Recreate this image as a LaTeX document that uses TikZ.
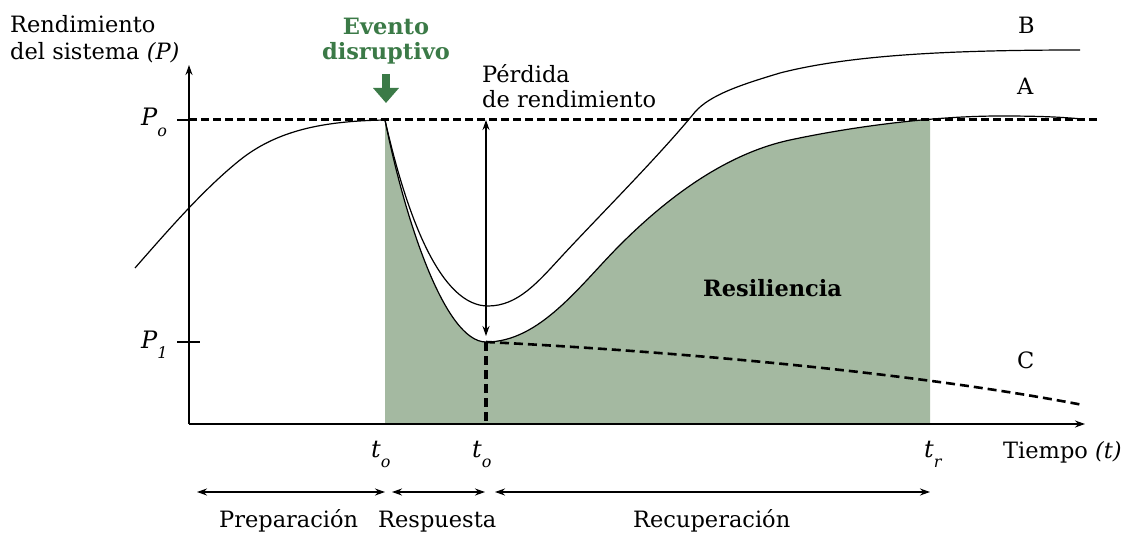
\documentclass[tikz,border=0pt]{standalone}
\usepackage{fontspec}
\setmainfont{DejaVu Serif}
\usetikzlibrary{arrows.meta}
\definecolor{evgreen}{HTML}{3B7A47}
\definecolor{shadegreen}{HTML}{A4B9A1}
\newcommand{\subsc}[1]{\raisebox{-0.42em}{\fontsize{16}{16}\selectfont\itshape #1}}
\begin{document}
\begin{tikzpicture}[x=1pt,y=-1pt,
  txt/.style={font=\fontsize{22.5}{27}\selectfont, inner sep=0pt},
  mathtxt/.style={font=\fontsize{24}{27}\selectfont\itshape, inner sep=0pt},
  axis/.style={line width=1.8pt},
  curve/.style={line width=1.2pt},
  thickdash/.style={line width=3pt, dash pattern=on 8pt off 4pt},
  cdash/.style={line width=2.6pt, dash pattern=on 9pt off 5pt},
  tip/.style={-{Stealth[length=10pt,width=7pt]}},
  dtip/.style={{Stealth[length=10pt,width=7pt]}-{Stealth[length=10pt,width=7pt]}}
]
\useasboundingbox (0,0) rectangle (1134,534);

% shaded resilience area (below curve A)
\begin{scope}
  \clip (385,0) rectangle (930,424);
  \fill[shadegreen] (385,424) -- (385,120)
    .. controls (405,220) and (445,342) .. (486,342)
    .. controls (540,342) and (580,285) .. (620,245)
    .. controls (660,205) and (720,155) .. (790,140)
    .. controls (860,125) and (940,116) .. (1000,116)
    -- (1000,424) -- cycle;
\end{scope}

% coordinates
\coordinate (O) at (189,424);
\coordinate (Ytop) at (189,65);
\coordinate (Xend) at (1085,424);
\coordinate (P0l) at (177,120);
\coordinate (P0a) at (189,120);
\coordinate (P0r) at (1100,120);
\coordinate (P1l) at (177,342);
\coordinate (P1r) at (200,342);
\coordinate (Ev) at (385,120);
\coordinate (Min) at (486,342);
\coordinate (MinB) at (486,424);
\coordinate (Ltop) at (486,120);
\coordinate (Lbot) at (486,336);
\coordinate (EvTop) at (386,74);
\coordinate (EvTip) at (386,103);

% axes
\draw[axis, tip] (O) -- (Ytop);
\draw[axis, tip] (O) -- (Xend);
\draw[axis] (P0l) -- (P0a);
\draw[axis] (P1l) -- (P1r);

% reference level P_o
\draw[thickdash] (P0a) -- (P0r);

% pre-event curve
\draw[curve] (135,268) .. controls (170,228) and (205,188) .. (240,160)
  .. controls (280,128) and (330,121) .. (Ev);

% curve B
\draw[curve] (Ev) .. controls (408,222) and (442,306) .. (488,306)
  .. controls (518,306) and (538,282) .. (562,256)
  .. controls (600,215) and (660,155) .. (695,112)
  .. controls (710,95) and (740,85) .. (780,73)
  .. controls (850,55) and (950,50) .. (1080,50);

% curve A
\draw[curve] (Ev) .. controls (405,220) and (445,342) .. (Min)
  .. controls (540,342) and (580,285) .. (620,245)
  .. controls (660,205) and (720,155) .. (790,140)
  .. controls (860,125) and (940,116) .. (1000,116)
  .. controls (1040,116) and (1060,117) .. (1082,119);

% curve C
\draw[cdash] (Min) .. controls (650,350) and (900,370) .. (1083,405);

% vertical dashed at minimum
\draw[line width=4pt, dash pattern=on 9pt off 5pt] (Min) -- (MinB);

% loss arrow
\draw[curve, dtip] (Ltop) -- (Lbot);

% disruptive event arrow
\draw[evgreen, line width=8pt, -{Triangle[length=15pt,width=25pt]}] (EvTop) -- (EvTip);

% texts
\node[txt, anchor=base west, align=left] (ylab) at (10,60) {Rendimiento\\del sistema \textit{(P)}};
\node[txt, anchor=base, align=center, text=evgreen, font=\fontsize{22.5}{25}\selectfont\bfseries] (evento) at (386,60) {Evento\\disruptivo};
\node[txt, anchor=base west, align=left, font=\fontsize{22.5}{25}\selectfont] (perdida) at (482,108) {Pérdida\\de rendimiento};
\node[txt, anchor=base west] (labB) at (1018,34) {B};
\node[txt, anchor=base west] (labA) at (1017,95) {A};
\node[txt, anchor=base west] (labC) at (1017,368) {C};
\node[txt, anchor=base west, font=\fontsize{22.5}{26}\selectfont\bfseries] (resil) at (703,297) {Resiliencia};

\node[mathtxt, anchor=base west] (P0) at (141,126) {P\subsc{o}};
\node[mathtxt, anchor=base west] (P1) at (141,348) {P\subsc{1}};
\node[mathtxt, anchor=base west] (t0a) at (371,457) {t\subsc{o}};
\node[mathtxt, anchor=base west] (t0b) at (472,457) {t\subsc{o}};
\node[mathtxt, anchor=base west] (tr) at (924,457) {t\subsc{r}};
\node[txt, anchor=base west] (tiempo) at (1003,458) {Tiempo \textit{(t)}};

% phase arrows
\coordinate (pa1) at (197,492);
\coordinate (pa2) at (385,492);
\coordinate (ra1) at (392,492);
\coordinate (ra2) at (485,492);
\coordinate (ca1) at (495,492);
\coordinate (ca2) at (930,492);
\draw[line width=1.3pt, dtip] (pa1) -- (pa2);
\draw[line width=1.3pt, dtip] (ra1) -- (ra2);
\draw[line width=1.3pt, dtip] (ca1) -- (ca2);

\node[txt, anchor=base west] (prep) at (219,527) {Preparación};
\node[txt, anchor=base west] (resp) at (378,527) {Respuesta};
\node[txt, anchor=base west] (recup) at (633,527) {Recuperación};
\end{tikzpicture}
\end{document}
